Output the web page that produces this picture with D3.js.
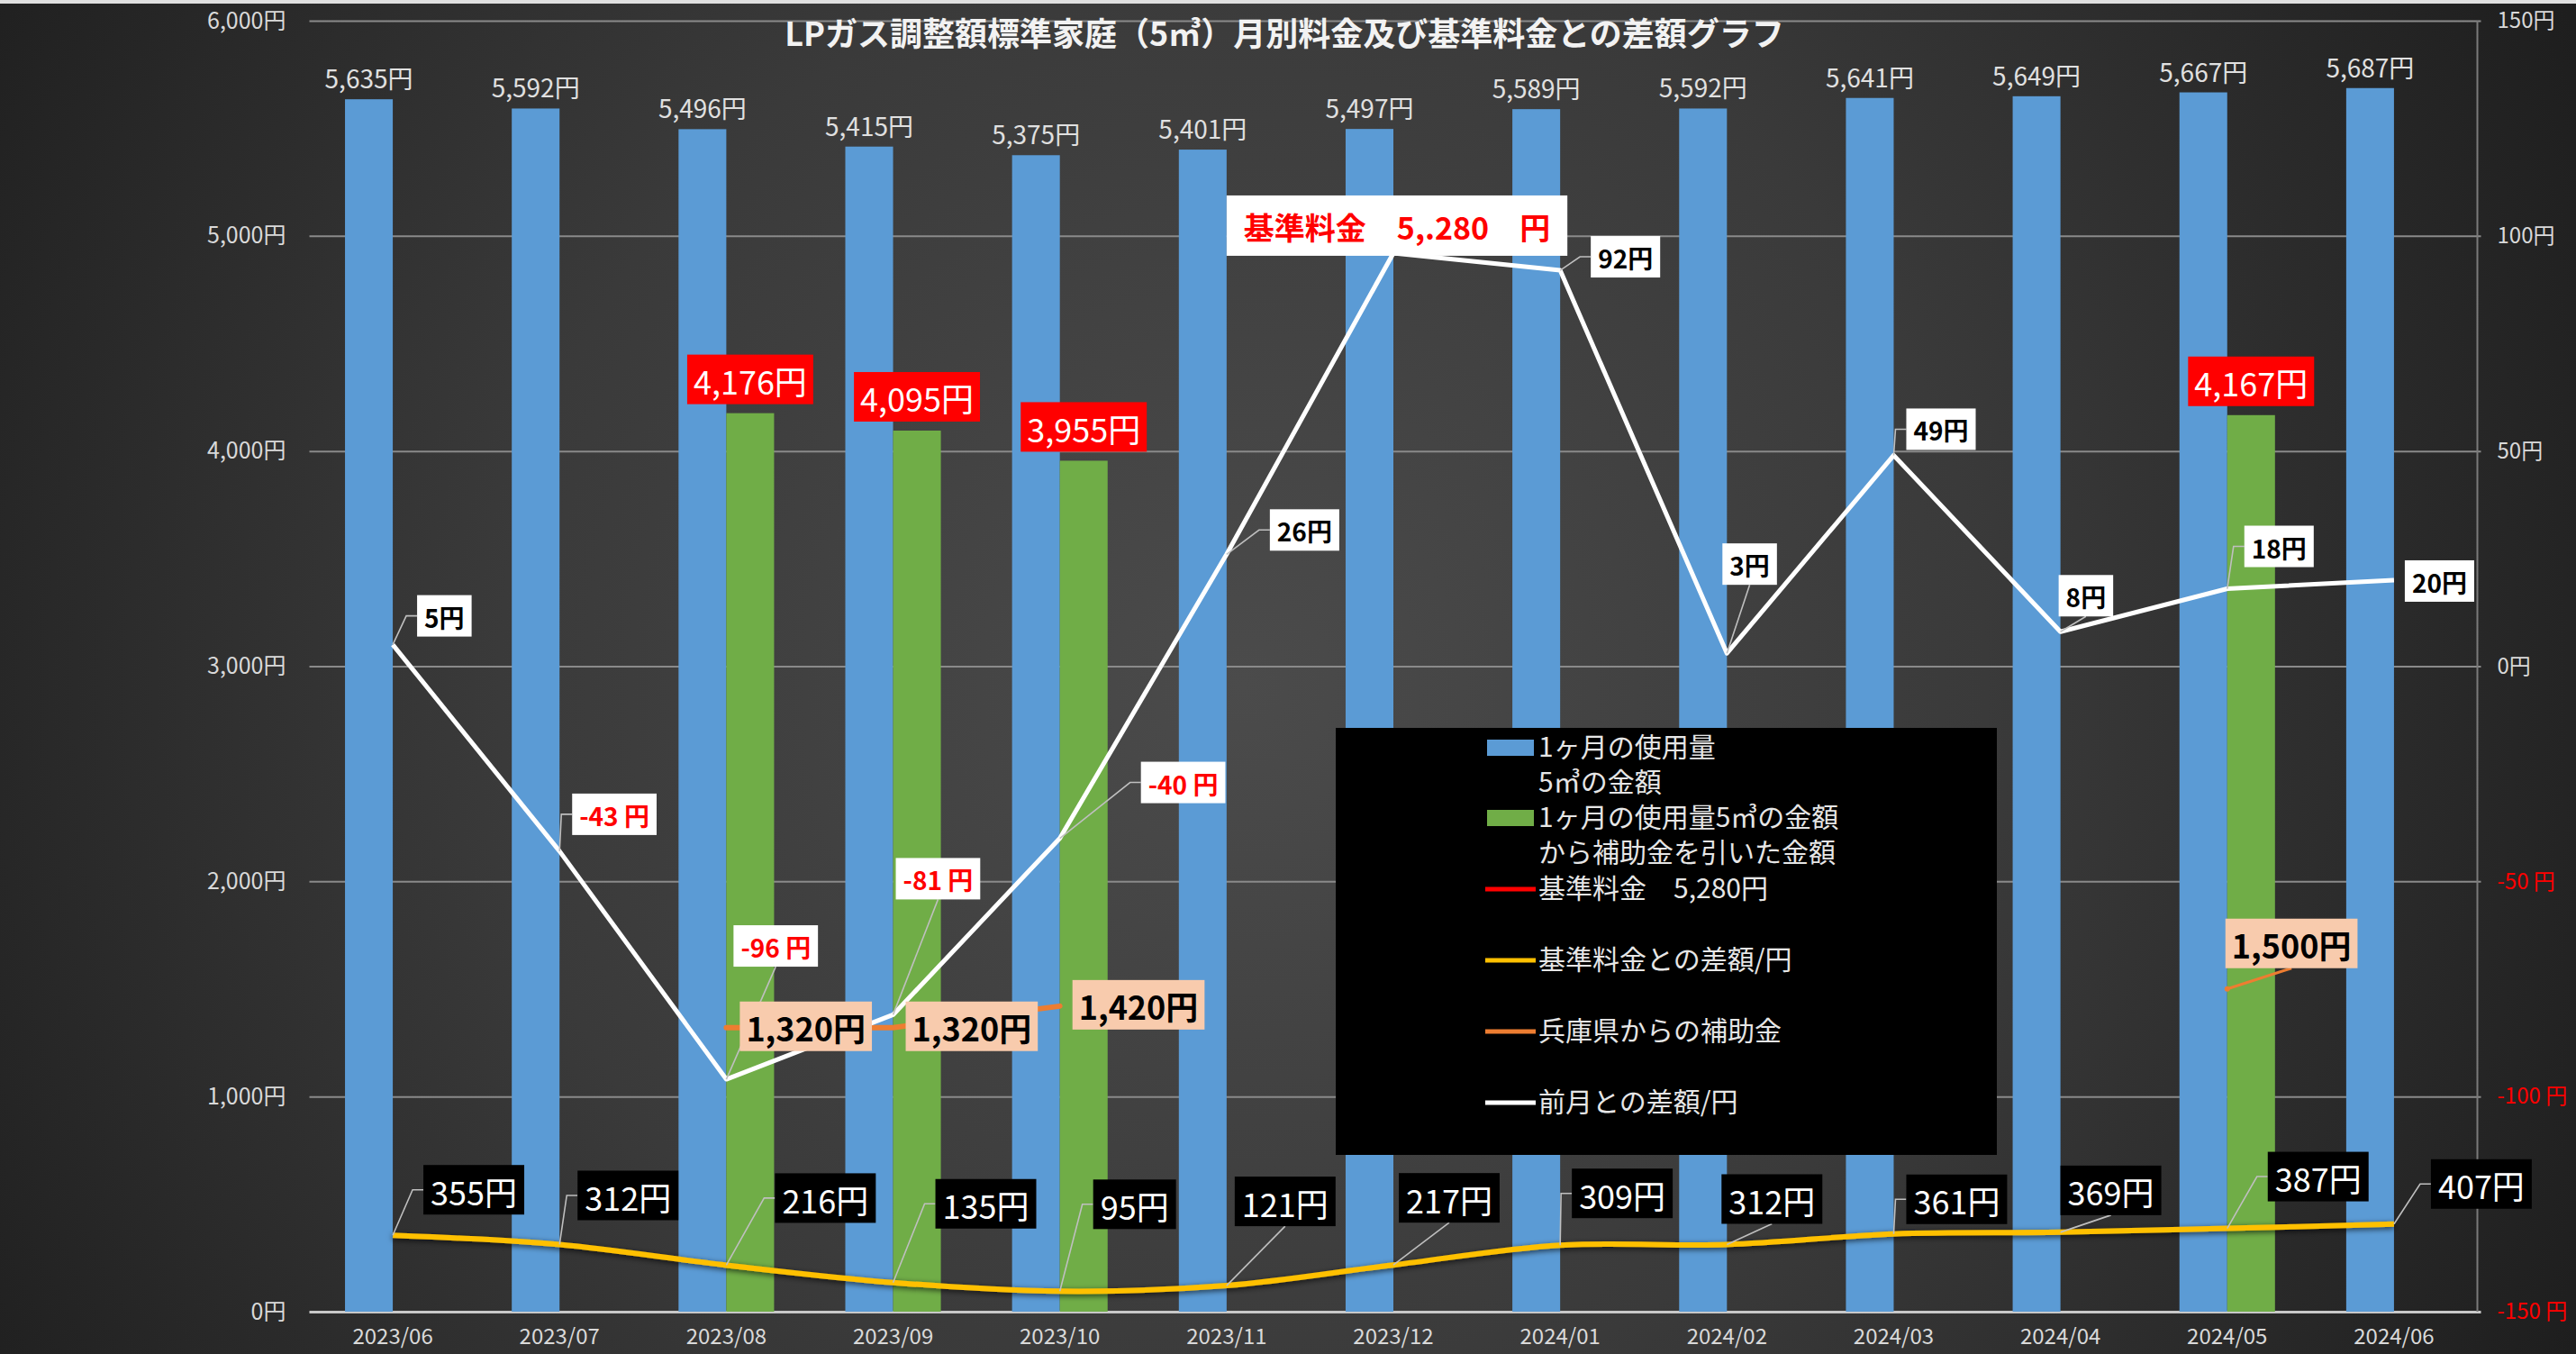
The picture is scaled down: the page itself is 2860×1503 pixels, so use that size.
<!DOCTYPE html>
<html>
<head>
<meta charset="utf-8">
<script src="https://cdn.jsdelivr.net/npm/d3@7"></script>
<style>
html,body{margin:0;padding:0;background:#262626;}
svg{display:block;}
text{font-family:"Noto Sans CJK JP","Noto Sans",sans-serif;}
</style>
</head>
<body>
<svg id="chart" width="2860" height="1503"></svg>
<script>
// ---------------- data ----------------
const months = ["2023/06","2023/07","2023/08","2023/09","2023/10","2023/11","2023/12","2024/01","2024/02","2024/03","2024/04","2024/05","2024/06"];
const monthlyCharge = [5635,5592,5496,5415,5375,5401,5497,5589,5592,5641,5649,5667,5687];          // 1ヶ月の使用量5㎥の金額
const afterSubsidy  = [null,null,4176,4095,3955,null,null,null,null,null,null,4167,null];           // 補助金を引いた金額
const baseCharge    = [5280,5280,5280,5280,5280,5280,5280,5280,5280,5280,5280,5280,5280];           // 基準料金
const diffFromBase  = [355,312,216,135,95,121,217,309,312,361,369,387,407];                        // 基準料金との差額
const subsidy       = [null,null,1320,1320,1420,null,null,null,null,null,null,1500,null];           // 兵庫県からの補助金
const diffFromPrev  = [5,-43,-96,-81,-40,26,96,92,3,49,8,18,20];                                   // 前月との差額
const leftTicks  = [0,1000,2000,3000,4000,5000,6000];
const rightTicks = [-150,-100,-50,0,50,100,150];
const titleText = "LPガス調整額標準家庭（5㎥）月別料金及び基準料金との差額グラフ";
const calloutText = "基準料金　5,.280　円";
const calloutIndex = 6;
const legendItems = [
  {type:"rect", color:"#5B9BD5", lines:["1ヶ月の使用量","5㎥の金額"]},
  {type:"rect", color:"#70AD47", lines:["1ヶ月の使用量5㎥の金額","から補助金を引いた金額"]},
  {type:"line", color:"#FF0000", lines:["基準料金　5,280円"]},
  {type:"line", color:"#FFC000", lines:["基準料金との差額/円"]},
  {type:"line", color:"#ED7D31", lines:["兵庫県からの補助金"]},
  {type:"line", color:"#FFFFFF", lines:["前月との差額/円"]}
];
// label placement offsets (box top-left relative to data point)
const yellowLabelOffsets = [[34,-78],[20,-82],[54,-102],[47,-115],[37,-124],[9,-121],[6,-102],[13,-85],[-6,-78],[14,-66],[0,-74],[45,-85],[41,-72]];
const whiteLabelOffsets  = [[27,-55],[14,-64],[8,-171],[3,-174],[90,-85],[48,-50],[0,0],[34,-38],[-5,-122],[14,-52],[-2,-63],[19,-70],[12,-22]];
const orangeLabelOffsets = [null,null,[15,-29],[14,-29],[14,-29],null,null,null,null,null,null,[-2,-78],null];

// ---------------- layout ----------------
const W = 2860, H = 1503;
const plotL = 343.5, plotR = 2750.5, plotT = 23, plotB = 1456;
const svg = d3.select("#chart");
const defs = svg.append("defs");

const bg = defs.append("radialGradient").attr("id","bg")
  .attr("gradientUnits","userSpaceOnUse").attr("cx",1380).attr("cy",760).attr("r",1650);
bg.append("stop").attr("offset",0).attr("stop-color","#4b4b4b");
bg.append("stop").attr("offset",0.5).attr("stop-color","#3a3a3a");
bg.append("stop").attr("offset",1).attr("stop-color","#1e1e1e");

const sh = defs.append("filter").attr("id","shadow").attr("x","-5%").attr("y","-50%").attr("width","110%").attr("height","200%");
sh.append("feDropShadow").attr("dx",0).attr("dy",2).attr("stdDeviation",3).attr("flood-color","#000").attr("flood-opacity",0.7);
const glow = defs.append("filter").attr("id","glow").attr("x","-5%").attr("y","-200%").attr("width","110%").attr("height","500%");
glow.append("feGaussianBlur").attr("in","SourceGraphic").attr("stdDeviation",3).attr("result","b");
const gm = glow.append("feMerge");
gm.append("feMergeNode").attr("in","b");
gm.append("feMergeNode").attr("in","SourceGraphic");

svg.append("rect").attr("width",W).attr("height",H).attr("fill","url(#bg)");
svg.append("rect").attr("width",W).attr("height",4).attr("fill","#e0e0e0");

// scales
const x0 = d3.scaleBand().domain(months).range([plotL, plotR]).paddingInner(0.427).paddingOuter(0.2135);
const x1 = d3.scaleBand().domain(["charge","after"]).range([0, x0.bandwidth()]);
const yL = d3.scaleLinear().domain([0,6000]).range([plotB, plotT]);
const yR = d3.scaleLinear().domain([-150,150]).range([plotB, plotT]);
const cx = i => x0(months[i]) + x0.bandwidth()/2;
const fmt = d3.format(",");

// gridlines
const grid = svg.append("g").attr("transform",`translate(${plotL},0)`)
  .call(d3.axisLeft(yL).tickValues(leftTicks).tickSize(-(plotR-plotL+4)).tickFormat(""));
grid.select(".domain").remove();
grid.selectAll(".tick line").attr("stroke", d => d===0 ? "#c8c8c8" : "#8a8a8a").attr("stroke-width", d => d===0 ? 3 : 2);
svg.append("line").attr("x1",plotR).attr("x2",plotR).attr("y1",plotT).attr("y2",plotB).attr("stroke","#7a7a7a").attr("stroke-width",2);

// left axis labels
const axL = svg.append("g").attr("transform",`translate(${plotL},0)`)
  .call(d3.axisLeft(yL).tickValues(leftTicks).tickSize(0).tickPadding(26).tickFormat(d => fmt(d)+"円"));
axL.select(".domain").remove();
axL.selectAll("text").attr("font-size",25).attr("fill","#d9d9d9").style("font-family",'"Noto Sans CJK JP",sans-serif');

// right axis labels
const axR = svg.append("g").attr("transform",`translate(${plotR},0)`)
  .call(d3.axisRight(yR).tickValues(rightTicks).tickSize(0).tickPadding(22).tickFormat(d => d < 0 ? d+" 円" : d+"円"));
axR.select(".domain").remove();
axR.selectAll("text").attr("font-size",24).attr("fill", d => d < 0 ? "#FF0000" : "#d9d9d9").style("font-family",'"Noto Sans CJK JP",sans-serif');

// x axis labels
const axX = svg.append("g").attr("transform",`translate(0,${plotB})`)
  .call(d3.axisBottom(x0).tickSize(0).tickPadding(19));
axX.select(".domain").remove();
axX.selectAll("text").attr("font-size",24).attr("fill","#d9d9d9").style("font-family",'"Noto Sans CJK JP",sans-serif');

// bars
const barsG = svg.append("g");
barsG.selectAll("rect.charge").data(monthlyCharge).join("rect").attr("class","charge")
  .attr("x",(d,i)=>x0(months[i])+x1("charge")).attr("width",x1.bandwidth())
  .attr("y",d=>yL(d)).attr("height",d=>yL(0)-yL(d)).attr("fill","#5B9BD5");
barsG.selectAll("rect.after").data(afterSubsidy.map((v,i)=>({v,i})).filter(d=>d.v!=null)).join("rect").attr("class","after")
  .attr("x",d=>x0(months[d.i])+x1("after")).attr("width",x1.bandwidth())
  .attr("y",d=>yL(d.v)).attr("height",d=>yL(0)-yL(d.v)).attr("fill","#70AD47");

// lines
const pts = arr => arr.map((v,i)=>({v,i}));
const lineL = d3.line().defined(d=>d.v!=null).x(d=>cx(d.i)).y(d=>yL(d.v));
svg.append("path").datum(pts(baseCharge)).attr("d",lineL).attr("fill","none")
  .attr("stroke","#FF0000").attr("stroke-width",7).attr("filter","url(#glow)");
svg.append("path").datum(pts(subsidy)).attr("d",lineL).attr("fill","none")
  .attr("stroke","#ED7D31").attr("stroke-width",6).attr("stroke-linecap","round");
svg.append("path").datum(pts(diffFromBase)).attr("d",d3.line().x(d=>cx(d.i)).y(d=>yL(d.v)).curve(d3.curveCatmullRom.alpha(0.5)))
  .attr("fill","none").attr("stroke","#FFC000").attr("stroke-width",6).attr("filter","url(#shadow)");
svg.append("path").datum(pts(diffFromPrev)).attr("d",d3.line().x(d=>cx(d.i)).y(d=>yR(d.v)))
  .attr("fill","none").attr("stroke","#FFFFFF").attr("stroke-width",5).attr("stroke-linejoin","round");

// legend
const lg = svg.append("g");
lg.append("rect").attr("x",1483).attr("y",808).attr("width",734).attr("height",474).attr("fill","#000");
const legendRowY = [830,908,987,1066,1145,1224];
const legendLineGap = 39;
legendItems.forEach((it,k)=>{
  const y = legendRowY[k];
  if (it.type==="rect") lg.append("rect").attr("x",1651).attr("y",y-9).attr("width",52).attr("height",18).attr("fill",it.color);
  else lg.append("line").attr("x1",1649).attr("x2",1705).attr("y1",y).attr("y2",y).attr("stroke",it.color).attr("stroke-width",5);
  const t = lg.append("text").attr("x",1708).attr("y",y+10).attr("font-size",30).attr("fill","#e6e6e6");
  it.lines.forEach((s,j)=>{
    t.append("tspan").attr("x",1708).attr("dy", j===0 ? 0 : legendLineGap).text(s);
  });
});

// label helpers
const labelsG = svg.append("g");
function makeBox(text, o){
  const g = labelsG.append("g");
  const r = g.append("rect").attr("fill",o.fill);
  const t = g.append("text").text(text).attr("font-size",o.size).attr("font-weight",o.weight||"normal")
    .attr("fill",o.color).attr("text-anchor","middle").attr("dominant-baseline","central");
  const w = t.node().getComputedTextLength() + 2*o.padX;
  return {g, w, h:o.h, place(x,y){ r.attr("x",x).attr("y",y).attr("width",w).attr("height",o.h); t.attr("x",x+w/2).attr("y",y+o.h/2+1); }};
}
function leader(px,py,bx,by,bw,bh,color,width){
  const dx = bx - px;
  let d = null;
  if (py >= by && py <= by+bh && dx < 20) return;
  if (dx > 10) { const my = by+bh/2; d = `M${px},${py}L${bx-12},${my}L${bx},${my}`; }
  else if (by+bh < py) { d = `M${px},${py}L${bx+bw/2},${by+bh}`; }
  else { d = `M${px},${py}L${bx+bw/2},${by}`; }
  labelsG.insert("path",":first-child").attr("d",d).attr("fill","none").attr("stroke",color).attr("stroke-width",width);
}

// blue bar value labels
labelsG.selectAll("text.blue").data(monthlyCharge).join("text").attr("class","blue")
  .attr("x",(d,i)=>x0(months[i])+x1("charge")+x1.bandwidth()/2).attr("y",d=>yL(d)-12)
  .attr("text-anchor","middle").attr("font-size",28).attr("fill","#e0e0e0").text(d=>fmt(d)+"円");

// green bar value labels
afterSubsidy.forEach((v,i)=>{
  if (v==null) return;
  const b = makeBox(fmt(v)+"円",{fill:"#FF0000",color:"#ffffff",size:36,padX:7,h:55});
  const bxc = x0(months[i])+x1("after")+x1.bandwidth()/2;
  b.place(bxc - b.w/2, yL(v) - 10 - b.h);
});

// yellow line labels
diffFromBase.forEach((v,i)=>{
  const px = cx(i), py = yL(v);
  const b = makeBox(v+"円",{fill:"#000000",color:"#ffffff",size:36,padX:8,h:55});
  const bx = px + yellowLabelOffsets[i][0], by = py + yellowLabelOffsets[i][1];
  b.place(bx,by);
  leader(px,py,bx,by,b.w,b.h,"#bfbfbf",1.6);
});

// orange labels
subsidy.forEach((v,i)=>{
  if (v==null) return;
  const px = cx(i), py = yL(v);
  const b = makeBox(fmt(v)+"円",{fill:"#F8CBAD",color:"#000000",size:36,weight:"bold",padX:7,h:55});
  const bx = px + orangeLabelOffsets[i][0], by = py + orangeLabelOffsets[i][1];
  b.place(bx,by);
  leader(px,py,bx,by,b.w,b.h,"#ED7D31",3);
});

// white line labels
diffFromPrev.forEach((v,i)=>{
  const px = cx(i), py = yR(v);
  if (i === calloutIndex) {
    const b = makeBox(calloutText,{fill:"#ffffff",color:"#FF0000",size:34,weight:"bold",padX:19,h:67});
    b.place(px - b.w/2 + 4, py - 64);
    return;
  }
  const txt = v < 0 ? v+" 円" : v+"円";
  const b = makeBox(txt,{fill:"#ffffff",color: v<0 ? "#FF0000" : "#000000",size:28,weight:"bold",padX:8,h:46});
  const bx = px + whiteLabelOffsets[i][0], by = py + whiteLabelOffsets[i][1];
  b.place(bx,by);
  leader(px,py,bx,by,b.w,b.h,"#bfbfbf",1.6);
});

// title
svg.append("text").attr("x",1426).attr("y",35).attr("text-anchor","middle").attr("dominant-baseline","central")
  .attr("font-size",36).attr("font-weight","bold").attr("fill","#f2f2f2").text(titleText);
</script>
</body>
</html>
